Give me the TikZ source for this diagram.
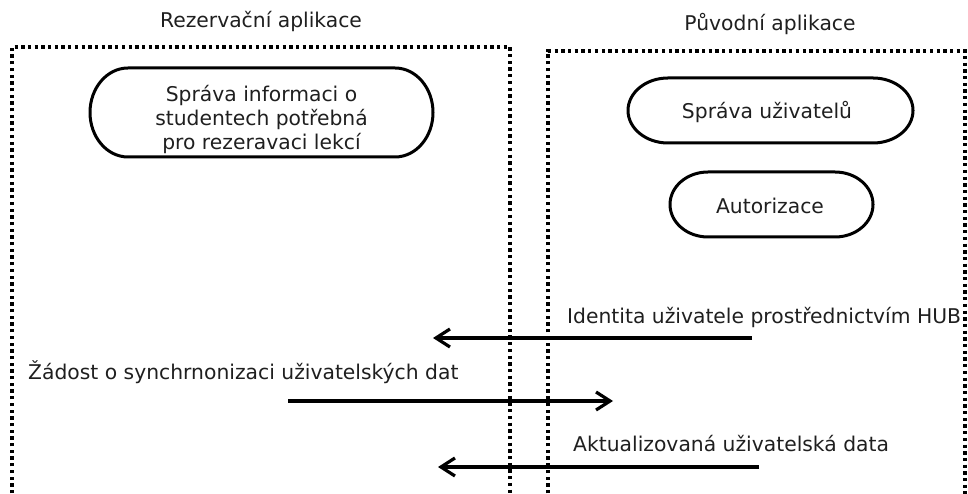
\documentclass[tikz,border=0pt]{standalone}
\usepackage{fontspec}
\setmainfont{DejaVu Sans}
\usetikzlibrary{arrows.meta}

% Draws a use-case outline (straight top and bottom, elliptic ends)
% around the point #1: half width #2, half height #3, end radius #4.
\newcommand\ucoutline[4]{%
  \draw[ucline]
    ([xshift=-#2pt+#4pt, yshift=#3pt]#1)
      -- ([xshift=#2pt-#4pt, yshift=#3pt]#1)
      arc[start angle=90, end angle=-90, x radius=#4pt, y radius=#3pt]
      -- ([xshift=-#2pt+#4pt, yshift=-#3pt]#1)
      arc[start angle=270, end angle=90, x radius=#4pt, y radius=#3pt]
      -- cycle;}

\tikzset{
  txt/.style={font=\fontsize{20.3}{24.2}\selectfont, text=black!88, inner sep=0pt},
  ucline/.style={line width=3pt, black},
  boundary/.style={line width=3.3pt, dash pattern=on 3.3pt off 3.4pt, black},
  msg/.style={line width=3.2pt, -{Straight Barb[length=14pt, width=18pt, line width=3.2pt]}},
}

\begin{document}
\begin{tikzpicture}[x=1pt, y=1pt]
  \useasboundingbox (0,0) rectangle (968,494);

  % system titles
  \node[txt, anchor=base] (titleL) at (261,466) {Rezervační aplikace};
  \node[txt, anchor=base] (titleR) at (770,463) {Původní aplikace};

  % system boundaries (open at the bottom)
  \coordinate (bl1) at (12,-6);
  \coordinate (bl2) at (12,447);
  \coordinate (bl3) at (510,447);
  \coordinate (bl4) at (510,-6);
  \draw[boundary] (bl1) -- (bl2) -- (bl3) -- (bl4);
  \coordinate (br1) at (548,-6);
  \coordinate (br2) at (548,443);
  \coordinate (br3) at (965,443);
  \coordinate (br4) at (965,-6);
  \draw[boundary] (br1) -- (br2) -- (br3) -- (br4);

  % use cases
  \coordinate (ucA) at (261.5,381.5);
  \ucoutline{ucA}{171.5}{44.5}{38}
  \node[txt, align=center] (studenti) at ([yshift=-7pt]ucA)
    {Správa informaci o\\studentech potřebná\\pro rezeravaci lekcí};

  \coordinate (ucB) at (770.5,383.5);
  \ucoutline{ucB}{142.5}{32.5}{40}
  \node[txt, anchor=base] (uzivatele) at (767,375.7) {Správa uživatelů};

  \coordinate (ucC) at (771.5,289.5);
  \ucoutline{ucC}{101.5}{32.5}{38}
  \node[txt, anchor=base] (autorizace) at (770,280.7) {Autorizace};

  % messages
  \coordinate (m1s) at (752,156);
  \coordinate (m1e) at (433,156);
  \draw[msg] (m1s) -- (m1e);
  \node[txt, anchor=base west] (m1t) at (567,170) {Identita uživatele prostřednictvím HUB};

  \coordinate (m2s) at (288,93);
  \coordinate (m2e) at (613,93);
  \draw[msg] (m2s) -- (m2e);
  \node[txt, anchor=base west] (m2t) at (28,114) {Žádost o synchrnonizaci uživatelských dat};

  \coordinate (m3s) at (759,27);
  \coordinate (m3e) at (438,27);
  \draw[msg] (m3s) -- (m3e);
  \node[txt, anchor=base west] (m3t) at (573,42.3) {Aktualizovaná uživatelská data};
\end{tikzpicture}
\end{document}
